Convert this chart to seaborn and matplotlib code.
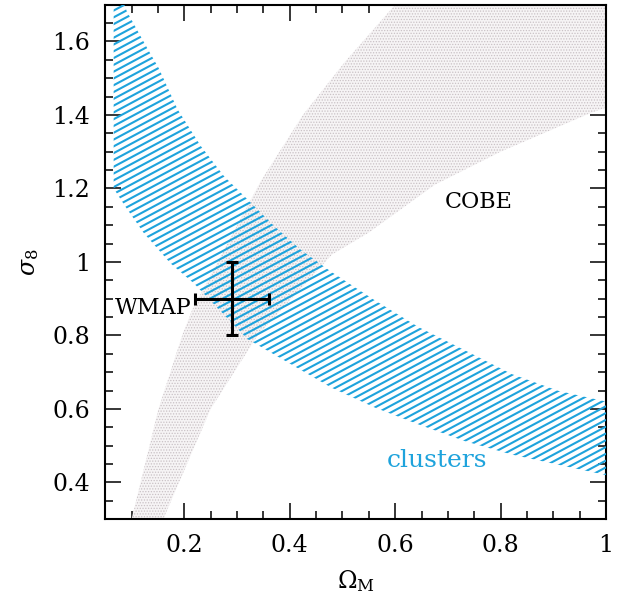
import numpy as np
import pandas as pd
import matplotlib
matplotlib.use("Agg")
import matplotlib.pyplot as plt
from matplotlib.collections import LineCollection
import seaborn as sns

# ---------------- data ----------------
# cluster-abundance band (sigma_8 vs Omega_M)
clusters_left_omega = 0.066
clusters_upper_omega = [0.091, 0.123, 0.152, 0.187, 0.231, 0.275, 0.320, 0.371,
                        0.421, 0.479, 0.561, 0.644, 0.733, 0.821, 0.910, 1.0]
clusters_upper_sigma = [1.682, 1.599, 1.526, 1.416, 1.316, 1.234, 1.170, 1.097,
                        1.033, 0.973, 0.896, 0.823, 0.759, 0.695, 0.649, 0.62]
clusters_lower_omega = [0.066, 0.088, 0.123, 0.174, 0.218, 0.32, 0.42, 0.479,
                        0.561, 0.644, 0.733, 0.821, 0.910, 1.0]
clusters_lower_sigma = [1.20, 1.151, 1.079, 0.996, 0.942, 0.79, 0.707, 0.658,
                        0.604, 0.558, 0.512, 0.476, 0.448, 0.42]

# COBE normalisation band
cobe_left_omega = [0.100, 0.151, 0.196, 0.215, 0.345, 0.425, 0.505, 0.60]
cobe_left_sigma = [0.30, 0.60, 0.80, 0.87, 1.22, 1.40, 1.545, 1.70]
cobe_right_omega = [1.0, 0.97, 0.80, 0.675, 0.55, 0.48, 0.339, 0.25, 0.160]
cobe_right_sigma = [1.42, 1.405, 1.30, 1.21, 1.08, 1.02, 0.80, 0.60, 0.30]

# WMAP point with errors
wmap_omega = [0.29]
wmap_sigma = [0.90]
wmap_omega_err = [0.07]
wmap_sigma_err = [0.10]

x_ticks = [0.2, 0.4, 0.6, 0.8, 1.0]
x_ticklabels = ["0.2", "0.4", "0.6", "0.8", "1"]
y_ticks = [0.4, 0.6, 0.8, 1.0, 1.2, 1.4, 1.6]
y_ticklabels = ["0.4", "0.6", "0.8", "1", "1.2", "1.4", "1.6"]

# ---------------- style ----------------
sns.set_theme(style="ticks")
plt.rcParams["font.family"] = ["DejaVu Serif"]
plt.rcParams["mathtext.fontset"] = "dejavuserif"
plt.rcParams["hatch.linewidth"] = 0.6
plt.rcParams["text.color"] = "black"
plt.rcParams["axes.labelcolor"] = "black"
plt.rcParams["xtick.color"] = "black"
plt.rcParams["ytick.color"] = "black"

BLUE = "#1ea3dc"

fig = plt.figure(figsize=(6.19, 5.94), dpi=100)
ax = fig.add_axes([0.170, 0.126, 0.809, 0.866])
ax.set_xlim(0.05, 1.0)
ax.set_ylim(0.3, 1.7)

# COBE band (stippled grey)
cobe_x = cobe_left_omega + [1.0] + cobe_right_omega
cobe_y = cobe_left_sigma + [1.7] + cobe_right_sigma
ax.fill(cobe_x, cobe_y, facecolor="#f6f4f5", edgecolor="#c9c1c5", hatch="......",
        linewidth=0, zorder=1)

# clusters band: invisible patch used as clip for custom hatch lines
cl_x = [clusters_left_omega] + clusters_upper_omega + clusters_lower_omega[::-1]
cl_y = [clusters_upper_sigma[0] + 0.1] + clusters_upper_sigma + clusters_lower_sigma[::-1]
cl_patch = ax.fill(cl_x, cl_y, facecolor="none", edgecolor="none", zorder=2)[0]

# hatch lines in axes coords, ~28 degrees on screen
slope = 0.52
step = 0.0132
offsets = np.arange(-1.0, 1.0, step)
segs = [[(0.0, c), (1.0, c + slope)] for c in offsets]
lc = LineCollection(segs, colors=BLUE, linewidths=1.5, transform=ax.transAxes, zorder=3)
ax.add_collection(lc)
lc.set_clip_path(cl_patch)

# WMAP cross
wmap = pd.DataFrame({"omega": wmap_omega, "sigma": wmap_sigma})
ax.errorbar(wmap["omega"], wmap["sigma"], xerr=wmap_omega_err, yerr=wmap_sigma_err,
            fmt="none", ecolor="black", elinewidth=2.2, capsize=4.5, capthick=2.2, zorder=5)

# annotations
ax.text(0.213, 0.875, "WMAP", ha="right", va="center", fontsize=16, color="black", zorder=6)
ax.text(0.759, 1.164, "COBE", ha="center", va="center", fontsize=16, color="black", zorder=6)
ax.text(0.679, 0.46, "clusters", ha="center", va="center", fontsize=18, color=BLUE, zorder=6)

# axes styling
ax.set_xticks(x_ticks)
ax.set_xticklabels(x_ticklabels)
ax.set_yticks(y_ticks)
ax.set_yticklabels(y_ticklabels)
ax.set_xticks(np.arange(0.05, 1.001, 0.05), minor=True)
ax.set_yticks(np.arange(0.3, 1.701, 0.05), minor=True)
ax.tick_params(which="both", direction="in", top=True, right=True, color="black",
               labelcolor="black", width=1.1)
ax.tick_params(which="major", length=11.5, labelsize=17, pad=11)
ax.tick_params(which="minor", length=5.8)
for s in ax.spines.values():
    s.set_linewidth(1.5)
    s.set_color("black")

ax.set_xlabel(r"$\Omega_{\rm M}$", fontsize=17, labelpad=8, color="black")
ax.set_ylabel(r"$\sigma_8$", fontsize=17, labelpad=8, color="black")

fig.savefig("out.png", dpi=100)
